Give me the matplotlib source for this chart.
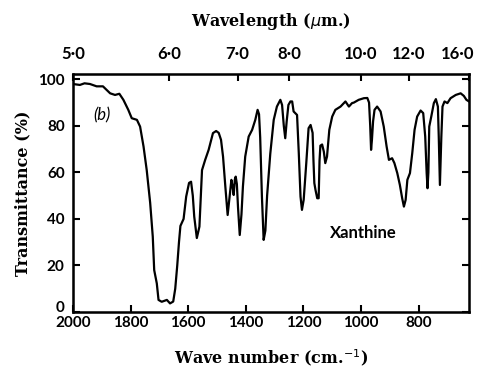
import numpy as np
import matplotlib
matplotlib.use("Agg")
import matplotlib.pyplot as plt
import matplotlib.transforms as mtransforms

# Xanthine IR spectrum
wave_number = [
    2000, 1976, 1960, 1941, 1918, 1896, 1871, 1854, 1839, 1825,
    1808, 1796, 1778, 1767, 1755, 1744, 1732, 1723, 1718, 1709,
    1703, 1692, 1674, 1663, 1652, 1645, 1638, 1632, 1627, 1616,
    1607, 1597, 1590, 1584, 1579, 1570, 1561, 1552, 1541, 1529,
    1514, 1503, 1494, 1486, 1479, 1471, 1463, 1456, 1450, 1446,
    1442, 1438, 1435, 1431, 1427, 1421, 1415, 1410, 1402, 1390,
    1378, 1367, 1359, 1354, 1350, 1344, 1338, 1332, 1326, 1315,
    1303, 1292, 1280, 1274, 1268, 1263, 1258, 1252, 1245, 1239,
    1234, 1222, 1216, 1210, 1205, 1199, 1190, 1182, 1175, 1168,
    1165, 1162, 1158, 1152, 1147, 1144, 1141, 1135, 1129, 1124,
    1118, 1110, 1100, 1089, 1071, 1054, 1042, 1031, 1025, 1008,
    990, 978, 972, 968, 965, 962, 958, 953, 944, 932,
    921, 911, 903, 892, 884, 874, 865, 857, 851, 845,
    839, 830, 822, 814, 805, 793, 784, 777, 772, 769,
    766, 763, 756, 747, 740, 733, 730, 726, 721, 717,
    710, 700, 689, 671, 654, 643, 634, 625,
]
transmittance = [
    98.0, 97.6, 98.3, 98.0, 97.0, 97.0, 94.0, 93.3, 93.8, 91.2,
    86.9, 83.3, 82.6, 79.7, 71.1, 61.0, 46.9, 32.4, 18.0, 12.3,
    5.2, 4.4, 5.2, 3.7, 4.5, 10.0, 20.0, 30.0, 37.0, 40.0,
    49.6, 55.5, 56.0, 50.0, 41.0, 31.8, 36.7, 61.0, 65.4, 69.7,
    76.9, 77.8, 77.0, 74.0, 66.8, 53.9, 41.7, 49.6, 56.8, 54.0,
    50.3, 57.0, 58.2, 55.0, 45.0, 33.1, 42.0, 53.9, 66.8, 75.4,
    78.3, 82.6, 86.9, 85.0, 75.0, 49.6, 31.0, 35.0, 50.0, 68.0,
    82.6, 88.3, 91.2, 89.0, 80.0, 74.7, 82.0, 89.0, 90.5, 90.5,
    86.2, 84.7, 68.3, 49.6, 43.9, 48.2, 64.0, 79.0, 80.4, 77.0,
    65.0, 55.4, 52.5, 48.9, 48.9, 65.0, 71.5, 72.0, 68.9, 64.0,
    66.8, 78.3, 84.0, 86.9, 88.3, 90.5, 88.3, 89.8, 90.0, 91.2,
    91.9, 92.0, 90.0, 80.0, 69.7, 74.0, 82.0, 86.9, 88.3, 86.2,
    79.7, 71.1, 65.4, 66.1, 64.0, 59.7, 54.6, 48.9, 45.3, 48.2,
    56.8, 59.7, 68.3, 78.3, 84.0, 86.6, 85.5, 75.4, 59.7, 53.2,
    60.0, 79.7, 84.0, 89.8, 91.5, 88.3, 75.4, 54.6, 75.4, 88.3,
    90.5, 89.8, 91.9, 93.3, 94.0, 92.9, 91.2, 90.5,
]

bottom_ticks = [2000, 1800, 1600, 1400, 1200, 1000, 800]
y_ticks = [0, 20, 40, 60, 80, 100]
wavelengths = [5.0, 6.0, 7.0, 8.0, 10.0, 12.0, 16.0]
wavelength_labels = ["5·0", "6·0", "7·0", "8·0", "10·0", "12·0", "16·0"]

tick_font = dict(family="Lato", weight="bold", size=11)
top_font = dict(family="Lato", weight="bold", size=12)
label_font = dict(family="DejaVu Serif", weight="bold", size=11.5)


def nudge(label, dx_px, dy_px):
    label.set_transform(label.get_transform() +
                        mtransforms.ScaledTranslation(dx_px / 72, dy_px / 72,
                                                      fig.dpi_scale_trans))


fig = plt.figure(figsize=(4.84, 3.73), dpi=100)
ax = fig.add_axes([0.1508, 0.1635, 0.8182, 0.6381])

ax.plot(wave_number, transmittance, color="black", linewidth=1.6)
ax.set_xlim(2000, 625)
ax.set_ylim(0, 102.3)

ax.set_xticks(bottom_ticks)
ax.set_xticklabels([str(t) for t in bottom_ticks], fontdict=tick_font)
ax.set_yticks(y_ticks)
ax.set_yticklabels([str(t) for t in y_ticks], fontdict=tick_font)
ax.tick_params(axis="both", direction="in", length=5, width=1.5, pad=3)
ax.tick_params(axis="y", right=True, pad=6)

# lift the "0" a bit so it doesn't sit on top of "2000"
nudge(ax.get_yticklabels()[0], 0, 4)

for s in ax.spines.values():
    s.set_linewidth(1.8)

# top axis: wavelength in microns
top = ax.twiny()
top.set_xlim(ax.get_xlim())
top.set_xticks([1e4 / w for w in wavelengths])
top.set_xticklabels(wavelength_labels, fontdict=top_font)
top.tick_params(axis="x", direction="in", length=5, width=1.5, pad=9)
# keep "16·0" inside the figure
nudge(top.get_xticklabels()[-1], -8, 0)

ax.set_xlabel("Wave number (cm.$^{-1}$)", fontdict=label_font, labelpad=12)
ax.set_ylabel("Transmittance (%)", fontdict=label_font, labelpad=5)
top.set_xlabel(r"Wavelength ($\mu$m.)", fontdict=label_font, labelpad=14)

ax.text(1900, 84.5, "(b)", fontsize=12, style="italic", family="Lato",
        ha="center", va="center")
ax.text(991, 34, "Xanthine", fontsize=12, family="Lato", weight="bold",
        ha="center", va="center")

fig.savefig("out.png", dpi=100)
